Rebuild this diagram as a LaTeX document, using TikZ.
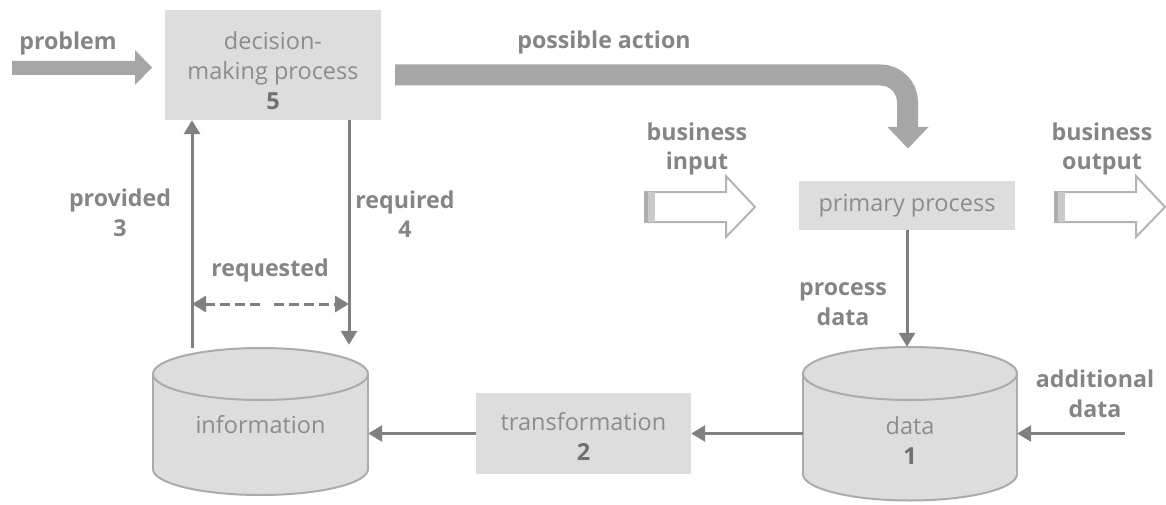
\documentclass[tikz,border=0pt]{standalone}
\usepackage{fontspec}
\setmainfont{Open Sans}
\usetikzlibrary{arrows.meta}

\definecolor{boxfill}{HTML}{DDDDDD}
\definecolor{linegray}{HTML}{808080}
\definecolor{blockgray}{HTML}{A6A6A6}
\definecolor{labelgray}{HTML}{858585}
\definecolor{nodetext}{HTML}{8C8C8C}
\definecolor{numgray}{HTML}{707070}
\definecolor{cylline}{HTML}{ABABAB}
\definecolor{openline}{HTML}{B4B4B4}
\definecolor{openbar}{HTML}{AEAEAE}

% cylinder (data store): centre x, x radius, top centre y, bottom centre y, y radius
\newcommand\drumshape[5]{%
  \filldraw[fill=boxfill,draw=cylline,line width=2pt] (#1,#4) ellipse [x radius=#2, y radius=#5];
  \fill[boxfill] (#1-#2,#3) rectangle (#1+#2,#4);
  \draw[cylline,line width=2pt] (#1-#2,#3) -- (#1-#2,#4) (#1+#2,#3) -- (#1+#2,#4);
  \filldraw[fill=boxfill,draw=cylline,line width=2pt] (#1,#3) ellipse [x radius=#2, y radius=#5];
}

% hollow block arrow with a shaded tail: left x, head x, tip x, centre y
\newcommand\hollowarrow[4]{%
  \filldraw[fill=white,draw=openline,line width=2pt,line join=miter]
    (#1,#4-15) -- (#2,#4-15) -- (#2,#4-31) -- (#3,#4) -- (#2,#4+30) -- (#2,#4+15) -- (#1,#4+15) -- cycle;
  \fill[openbar] (#1-1,#4-15) rectangle (#1+10,#4+15);
  \fill[openline!70] (#1+3,#4-15) rectangle (#1+10,#4+15);
}

\begin{document}
\begin{tikzpicture}[x=1pt,y=-1pt,
  every node/.style={font=\fontsize{23.5}{30}\selectfont},
  procbox/.style={fill=boxfill, inner sep=0pt, text=nodetext, align=center},
  lbl/.style={text=labelgray, font=\fontsize{23.2}{29.5}\selectfont\bfseries, align=center},
  plain/.style={text=nodetext, align=center},
  flow/.style={draw=linegray, line width=3pt, -{Triangle[width=16pt,length=14pt]}},
  twoway/.style={draw=linegray, line width=3pt,
    {Triangle[width=16pt,length=14pt]}-{Triangle[width=16pt,length=14pt]},
    dash pattern=on 10pt off 5pt on 10pt off 5pt on 10pt off 5pt on 10pt off 14pt on 10pt off 5pt on 10pt off 5pt on 10pt off 5pt on 10pt off 5pt},
]
\useasboundingbox (0,0) rectangle (1166,505);

% process boxes
\node[procbox, minimum width=216pt, minimum height=110pt] (dec) at (273,65) {};
\node[plain] (dectext) at (273,70.5)
  {decision-\\making process\\\textcolor{numgray}{\bfseries 5}};
\node[procbox, minimum width=216pt, minimum height=49pt] (prim) at (907,205.5) {primary process};
\node[procbox, minimum width=215pt, minimum height=81pt] (trans) at (583.5,433.5) {};
\node[plain] (transtext) at (583.5,436.5) {transformation\\\textcolor{numgray}{\bfseries 2}};

% data stores
\drumshape{260.5}{107.5}{374}{469}{26}
\node[inner sep=0pt, minimum width=215pt, minimum height=147pt] (info) at (260.5,421.5) {};
\node[plain] (infotext) at (260.5,425) {information};

\drumshape{910}{107}{373.5}{474}{26.5}
\node[inner sep=0pt, minimum width=214pt, minimum height=153pt] (data) at (910,423.5) {};
\node[plain] (datatext) at (910,441) {data\\\textcolor{numgray}{\bfseries 1}};

% problem block arrow
\fill[blockgray] (12,61) -- (135,61) -- (135,50) -- (152,67.5) -- (135,85) -- (135,75) -- (12,75) -- cycle;
\node[lbl] (problem) at (68,43) {problem};

% possible action block arrow
\coordinate (actstart) at (395,75);
\coordinate (actbend) at (907.5,75);
\coordinate (actend) at (907.5,128);
\draw[blockgray, line width=21pt, rounded corners=27pt] (actstart) -- (actbend) -- (actend);
\fill[blockgray] (887.5,127) -- (928.5,127) -- (908,148.5) -- cycle;
\node[lbl] (action) at (604,42) {possible action};

% business input / output
\hollowarrow{645}{726}{755}{207}
\node[lbl] (bin) at (697,149) {business\\input};
\hollowarrow{1055}{1136}{1165}{207}
\node[lbl] (bout) at (1102,149) {business\\output};

% information flow around the decision-making process
\coordinate (provfoot) at (192,348);
\draw[flow] (provfoot) -- (provfoot |- dec.south);
\node[lbl] (prov) at (120,213) {provided\\3};

\coordinate (reqx) at (349,0);
\draw[flow, shorten >=3pt] (reqx |- dec.south) -- (reqx |- info.north);
\node[lbl] (reqd) at (405,214) {required\\4};

\coordinate (askL) at (192,304);
\coordinate (askR) at (349,304);
\draw[twoway] (askL) -- (askR);
\node[lbl] (asked) at (270,270) {requested};

% data flow along the bottom
\draw[flow] (prim.south) -- (prim.south |- data.north);
\node[lbl] (pdata) at (843,304) {process\\data};

\coordinate (addsrc) at (1125,433.5);
\draw[flow] (addsrc) -- (addsrc -| data.east);
\node[lbl] (adata) at (1095,394) {additional\\data};

\draw[flow] (data.west |- trans.east) -- (trans.east);
\draw[flow] (trans.west) -- (trans.west -| info.east);
\end{tikzpicture}
\end{document}
